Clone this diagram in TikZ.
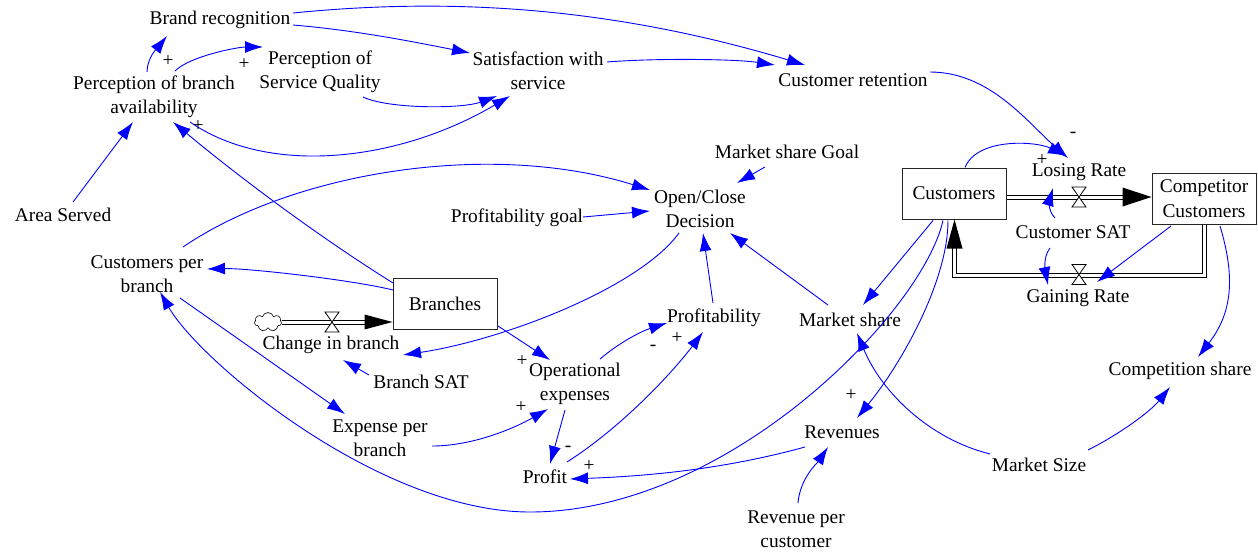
\documentclass[tikz,border=0pt]{standalone}
\usepackage{fontspec}
\setmainfont{Liberation Serif}
\usetikzlibrary{arrows.meta,calc,shapes.symbols}
\begin{document}
\begin{tikzpicture}[x=1pt,y=-1pt,
  font=\fontsize{19.4}{24.5}\selectfont,
  var/.style={align=center,inner sep=0pt},
  stock/.style={draw=black!85,line width=1pt,minimum width=104pt,minimum height=51pt,align=center,inner sep=0pt},
  lnk/.style={draw=blue,line width=0.9pt,-{Latex[length=18pt,width=12pt]}},
  pol/.style={inner sep=0pt},
  pipe/.style={draw=black,line width=1pt,double=white,double distance=3pt},
  valve/.style={draw=black,fill=white,line width=0.8pt},
  head/.style={fill=black}
]
\useasboundingbox (0,0) rectangle (1258,552);

% variables
\node[var] (brand) at (220,20) {Brand recognition};
\node[var] (pba) at (154,97) {Perception of branch\\availability};
\node[var] (psq) at (320,72) {Perception of\\Service Quality};
\node[var] (sat) at (538,71) {Satisfaction with\\service};
\node[var] (cret) at (853,80) {Customer retention};
\node[var] (area) at (63,215) {Area Served};
\node[var] (cpb) at (147,274) {Customers per\\branch};
\node[var] (msg) at (787,152) {Market share Goal};
\node[var] (ocd) at (700,209) {Open/Close\\Decision};
\node[var] (pgoal) at (517,218) {Profitability goal};
\node[var] (lose) at (1079,172) {Losing Rate};
\node[var] (csat) at (1073,232) {Customer SAT};
\node[var] (gain) at (1078,298) {Gaining Rate};
\node[var] (chb) at (331,345) {Change in branch};
\node[var] (bsat) at (421,382) {Branch SAT};
\node[var] (opex) at (575,384) {Operational\\expenses};
\node[var] (epb) at (380,438) {Expense per\\branch};
\node[var] (profit) at (545,477) {Profit};
\node[var] (prof) at (714,318) {Profitability};
\node[var] (mshare) at (850,320) {Market share};
\node[var] (rev) at (842,432) {Revenues};
\node[var] (rpc) at (796,529) {Revenue per\\customer};
\node[var] (msize) at (1039,465) {Market Size};
\node[var] (cshare) at (1180,371) {Competition share};

% stocks
\node[stock] (cust) at (954,193.5) {Customers};
\node[stock] (comp) at (1204,198.5) {Competitor\\Customers};
\node[stock] (branches) at (445,303.5) {Branches};
\node[cloud,draw,cloud puffs=7,minimum width=27pt,minimum height=19pt,inner sep=0pt,line width=0.6pt] (src) at (268,322) {};

% flows
\draw[pipe] ([shift={(0,3.5)}]cust.east) -- ([shift={(-20,-1.5)}]comp.west);
\fill[head] ([shift={(0,-1.5)}]comp.west) -- +(-29,-9.5) -- +(-29,9.5) -- cycle;
\coordinate (vlose) at (1079,197);
\draw[valve] (vlose) +(-7,-10) -- +(7,-10) -- +(-7,10) -- +(7,10) -- cycle;

\draw[pipe] ([shift={(0.5,0)}]comp.south) -- ++(0,50.5) -| ([shift={(0.5,20)}]cust.south);
\fill[head] ([shift={(0.5,0)}]cust.south) -- +(-8,29) -- +(8,29) -- cycle;
\coordinate (vgain) at (1079,274.5);
\draw[valve] (vgain) +(-7,-10) -- +(7,-10) -- +(-7,10) -- +(7,10) -- cycle;

\draw[pipe] (src.east) -- ([shift={(-20,0)}]src.east -| branches.west);
\fill[head] (src.east -| branches.west) -- +(-28,-7.5) -- +(-28,7.5) -- cycle;
\coordinate (vbranch) at (332,322);
\draw[valve] (vbranch) +(-7,-10) -- +(7,-10) -- +(-7,10) -- +(7,10) -- cycle;

% causal links
\draw[lnk] ($(pba)+(-7,-25)$) .. controls +(0,-15) and +(-8,10) .. ($(brand)+(-53,16)$);
\draw[lnk] ($(pba)+(21,-26)$) .. controls +(15,-15) and +(-25,0) .. ($(psq)+(-57,-25)$);
\draw[lnk] ($(brand)+(73,5)$) .. controls +(60,5) and +(-60,-12) .. ($(sat)+(-68,-18)$);
\draw[lnk] ($(brand)+(73,-7)$) .. controls +(150,-15) and +(-200,-60) .. ($(cret)+(-48,-15)$);
\draw[lnk] ($(psq)+(43,25)$) .. controls +(25,12) and +(-35,13) .. ($(sat)+(-41,25)$);
\draw[lnk] ($(pba)+(36,25)$) .. controls +(80,55) and +(-110,65) .. ($(sat)+(-28,25)$);
\draw[lnk] ($(sat)+(69,-9)$) .. controls +(50,-4) and +(-40,-6) .. ($(cret)+(-78,-15)$);
\draw[lnk] ($(cret)+(77,-8)$) .. controls +(60,0) and +(-40,-35) .. ($(lose)+(-11,-14)$);
\draw[lnk] ($(cust)+(11,-26)$) .. controls +(12,-30) and +(-30,-15) .. ($(lose)+(-13,-16)$);
\draw[lnk] ($(area)+(10,-13)$) -- ($(pba)+(-21,25)$);
\draw[lnk] ($(branches)+(-52,-20.5)$) .. controls +(-80,-50) and +(60,50) .. ($(pba)+(19,25)$);
\draw[lnk] ($(branches)+(-52,-13.5)$) .. controls +(-40,-10) and +(40,-1) .. ($(cpb)+(60,-5)$);
\draw[lnk] ($(cpb)+(36,-27)$) .. controls +(110,-75) and +(-160,-50) .. ($(ocd)+(-50,-19)$);
\draw[lnk] ($(pgoal)+(66,-1)$) -- ($(ocd)+(-50,2)$);
\draw[lnk] ($(msg)+(-22,15)$) -- ($(ocd)+(37,-26)$);
\draw[lnk] ($(ocd)+(-21,24)$) .. controls +(-40,55) and +(100,-15) .. ($(chb)+(72,10)$);
\draw[lnk] ($(prof)+(-1,-15)$) -- ($(ocd)+(3,24)$);
\draw[lnk] ($(mshare)+(-22,-15)$) -- ($(ocd)+(30,24)$);
\draw[lnk] ($(csat)+(-18,-14)$) .. controls +(-8,-8) and +(-3,10) .. ($(lose)+(-26,16)$);
\draw[lnk] ($(csat)+(-23,16)$) .. controls +(-8,10) and +(-2,-10) .. ($(gain)+(-30,-13)$);
\draw[lnk] ($(comp)+(-33,27.5)$) -- ($(gain)+(19,-16)$);
\draw[lnk] ($(comp)+(16,27.5)$) .. controls +(15,50) and +(35,-45) .. ($(cshare)+(18,-14)$);
\draw[lnk] ($(cust)+(-21,27)$) -- ($(mshare)+(13,-15)$);
\draw[lnk] ($(cust)+(-6,27)$) .. controls +(0,60) and +(45,-55) .. ($(rev)+(15,-14)$);
\draw[lnk] ($(cust)+(-11,27)$) .. controls +(-20,90) and +(200,0) .. ($(profit)+(-15,35)$)
  .. controls +(-150,0) and +(40,70) .. ($(cpb)+(13,18)$);
\draw[lnk] ($(msize)+(-49,-11)$) .. controls +(-60,-15) and +(25,60) .. ($(mshare)+(7,13)$);
\draw[lnk] ($(msize)+(49,-15)$) .. controls +(30,-15) and +(-20,25) .. ($(cshare)+(-10,16)$);
\draw[lnk] ($(rpc)+(2,-26)$) .. controls +(2,-25) and +(-10,15) .. ($(rev)+(-14,15)$);
\draw[lnk] ($(rev)+(-37,15)$) .. controls +(-80,22) and +(80,-3) .. ($(profit)+(25,2)$);
\draw[lnk] ($(branches)+(53,22.5)$) -- ($(opex)+(-25,-24)$);
\draw[lnk] ($(epb)+(52,8)$) .. controls +(40,0) and +(-35,20) .. ($(opex)+(-27,25)$);
\draw[lnk] ($(opex)+(-10,26)$) -- ($(profit)+(5,-13)$);
\draw[lnk] ($(opex)+(25,-25)$) .. controls +(20,-17) and +(-25,8) .. ($(prof)+(-47,5)$);
\draw[lnk] ($(profit)+(22,-15)$) .. controls +(55,-35) and +(-30,40) .. ($(prof)+(-11,14)$);
\draw[lnk] ($(bsat)+(-52,-7)$) -- ($(chb)+(12,15)$);
\draw[lnk] ($(cpb)+(33,24)$) -- ($(epb)+(-35,-24)$);

% link polarities
\node[pol] (p1) at (168,61) {+};
\node[pol] (p2) at (244,64) {+};
\node[pol] (p3) at (198,126) {+};
\node[pol] (p4) at (1073,135) {-};
\node[pol] (p5) at (1042,160) {+};
\node[pol] (p6) at (522,361) {+};
\node[pol] (p7) at (521,407) {+};
\node[pol] (p8) at (568,449) {-};
\node[pol] (p9) at (653,348) {-};
\node[pol] (p10) at (677,338) {+};
\node[pol] (p11) at (589,466) {+};
\node[pol] (p12) at (851,395) {+};
\end{tikzpicture}
\end{document}
